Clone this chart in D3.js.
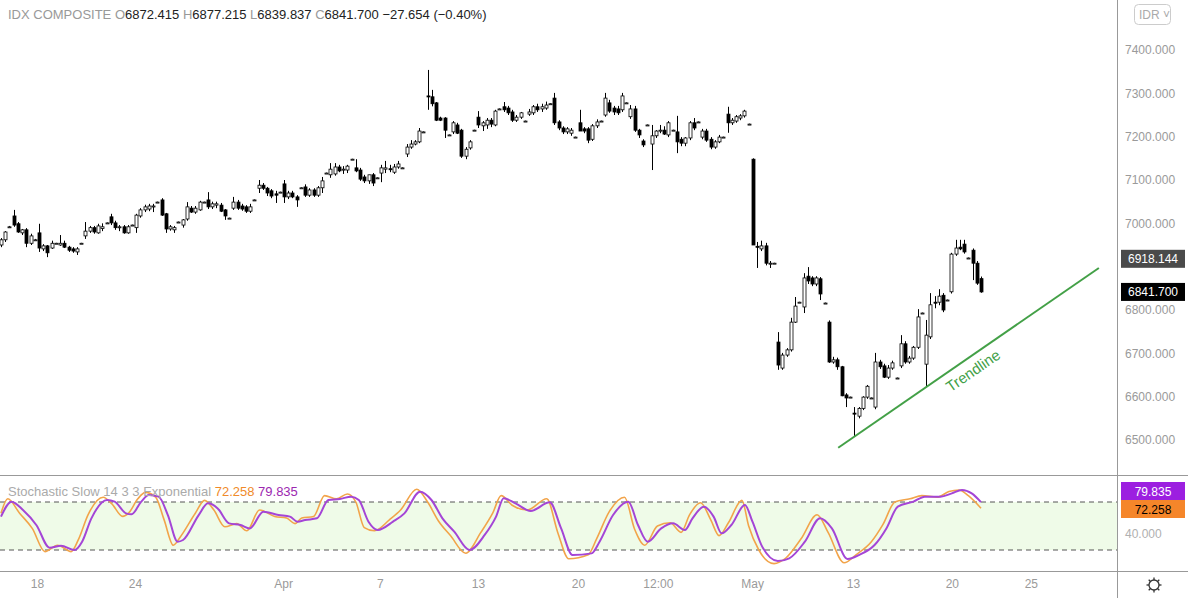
<!DOCTYPE html>
<html>
<head>
<meta charset="utf-8">
<script src="https://cdn.jsdelivr.net/npm/d3@7"></script>
<style>
  body { margin: 0; background: #fff; }
  svg { font-family: "Liberation Sans", Arial, sans-serif; }
</style>
</head>
<body>
<div id="chart"></div>
<script>
// bars [open, high, low, close]
var marchBars = [
  [6950,6966,6945,6962],[6962,6982,6957,6980],[6992,6994,6990,6992],[7017,7031,6992,6996],[6999,7003,6978,6980],
  [6978,6987,6973,6985],[6985,6989,6945,6954],[6954,6976,6950,6971],[6962,6964,6960,6962],[6978,6999,6934,6943],
  [6941,6952,6936,6948],[6948,6950,6922,6932],[6943,6960,6941,6954],[6954,6955,6953,6954],[6950,6973,6948,6954],
  [6954,6960,6943,6945],[6945,6948,6934,6938],[6941,6945,6932,6936],[6934,6945,6927,6941],[6954,6955,6953,6954],
  [6971,7003,6964,6982],[6982,6994,6978,6990],[6990,6994,6976,6980],[6978,6999,6976,6994],[6988,7000,6982,6992],
  [7001,7002,7000,7001],[7015,7022,6996,7001],[7001,7006,6985,6990],[6990,6996,6982,6992],[6992,6996,6976,6978],
  [6978,6996,6976,6992],[6996,6997,6995,6996],[6990,7022,6978,7019],[7017,7035,7013,7031],[7031,7043,7026,7038],
  [7033,7045,7028,7040],[7038,7045,7026,7040],[7049,7050,7048,7049],[7054,7058,7017,7019],[7022,7024,6978,6987],
  [6987,6996,6983,6992],[6985,6994,6978,6990],[7003,7004,7002,7003],[6996,7010,6990,7008],[7010,7049,7006,7038],
  [7035,7040,7024,7026],[7026,7040,7022,7035],[7031,7052,7029,7049],[7049,7050,7048,7049],[7054,7072,7033,7038],
  [7038,7050,7033,7045],[7042,7050,7035,7045],[7042,7047,7026,7028],[7031,7033,7008,7017],[7012,7013,7011,7012],
  [7035,7061,7031,7049],[7049,7054,7031,7035],[7040,7045,7029,7033],[7038,7042,7024,7028],[7028,7045,7024,7038],
  [7054,7055,7053,7054],[7081,7100,7070,7088],[7088,7093,7077,7081],[7081,7084,7063,7070],[7075,7079,7058,7063],
  [7068,7075,7047,7065],[7072,7073,7071,7072]
];
var aprilBars = [
  [7091,7100,7047,7061],[7061,7075,7056,7070],[7070,7075,7058,7061],[7061,7065,7038,7054],[7082,7083,7081,7082],
  [7084,7090,7061,7065],[7065,7081,7061,7077],[7077,7081,7061,7065],[7065,7086,7061,7082],[7082,7107,7070,7098],
  [7116,7117,7115,7116],[7112,7139,7105,7125],[7114,7139,7110,7130],[7130,7135,7118,7121],[7123,7132,7114,7125],
  [7123,7135,7116,7132],[7148,7149,7147,7148],[7128,7148,7118,7121],[7123,7128,7098,7102],[7107,7112,7093,7098],
  [7098,7112,7091,7112],[7112,7116,7086,7093],[7105,7106,7104,7105],[7116,7135,7095,7128],[7125,7144,7116,7128],
  [7126,7135,7118,7125],[7118,7137,7114,7130],[7130,7144,7126,7137],[7128,7129,7127,7128],[7160,7183,7153,7176],
  [7176,7192,7172,7183],[7183,7192,7180,7188],[7188,7220,7185,7213],[7211,7212,7210,7211],[7294,7354,7262,7292],
  [7292,7308,7270,7276],[7278,7280,7236,7238],[7243,7246,7236,7238],[7243,7245,7197,7215],[7204,7205,7203,7204],
  [7211,7236,7206,7232],[7227,7232,7206,7208],[7215,7218,7151,7155],[7155,7176,7148,7171],[7174,7192,7170,7188],
  [7215,7216,7214,7215],[7245,7259,7220,7227],[7225,7236,7213,7232],[7227,7243,7218,7238],[7238,7243,7222,7229],
  [7227,7262,7224,7259],[7264,7265,7263,7264],[7269,7280,7257,7262],[7266,7271,7250,7255],[7257,7262,7234,7238],
  [7238,7250,7234,7245],[7245,7257,7241,7255],[7236,7237,7235,7236],[7252,7264,7248,7257],[7255,7273,7250,7269],
  [7269,7276,7257,7262],[7264,7276,7257,7269],[7266,7281,7262,7273],[7276,7277,7275,7276],[7289,7301,7227,7232],
  [7234,7238,7215,7220],[7220,7224,7206,7211],[7211,7222,7206,7218],[7208,7220,7202,7215],[7199,7200,7198,7199],
  [7232,7262,7222,7213],[7218,7222,7208,7213],[7218,7222,7185,7192],[7194,7229,7190,7225],[7225,7240,7220,7234],
  [7236,7237,7235,7236],[7250,7301,7246,7289],[7278,7285,7255,7259],[7266,7271,7250,7257],[7264,7271,7250,7255],
  [7262,7301,7257,7294],[7278,7279,7277,7278],[7246,7273,7241,7264],[7264,7271,7211,7215],[7215,7218,7197,7204],
  [7190,7194,7176,7181],[7227,7228,7226,7227],[7183,7227,7123,7202],[7202,7215,7197,7213],[7215,7227,7208,7215],
  [7215,7224,7204,7206],[7204,7236,7199,7232],[7215,7216,7214,7215],[7211,7248,7162,7188],[7194,7199,7178,7185],
  [7185,7199,7178,7197],[7197,7236,7192,7232],[7232,7243,7215,7220],[7234,7235,7233,7234],[7199,7218,7194,7213],
  [7213,7218,7188,7192],[7194,7199,7171,7176],[7176,7192,7172,7188],[7188,7204,7185,7199],[7199,7200,7198,7199],
  [7252,7269,7209,7232],[7232,7243,7227,7238],[7236,7250,7232,7246],[7243,7252,7238,7248],[7248,7262,7244,7259],
  [7229,7230,7228,7229]
];
var mayBars = [
  [7148,7150,6950,6950],[6947,6957,6897,6945],[6941,6960,6936,6948],[6948,6955,6903,6908],[6908,6913,6897,6908],
  [6908,6909,6907,6908],[6726,6749,6662,6673],[6666,6701,6662,6696],[6696,6712,6692,6708],[6708,6782,6704,6772],
  [6772,6830,6770,6809],[6818,6819,6817,6818],[6807,6885,6793,6874],[6878,6899,6860,6867],[6874,6878,6855,6860],
  [6860,6878,6855,6874],[6872,6876,6823,6837],[6816,6817,6815,6816],[6772,6776,6678,6680],[6680,6692,6676,6685],
  [6685,6690,6662,6669],[6669,6671,6601,6602],[6604,6608,6576,6597],[6599,6600,6598,6599],[6562,6576,6507,6560],
  [6555,6576,6550,6573],[6573,6601,6569,6599],[6599,6627,6595,6624],[6597,6598,6596,6597],[6576,6701,6571,6680],
  [6680,6685,6664,6669],[6671,6676,6643,6645],[6645,6673,6641,6666],[6666,6683,6662,6678],[6643,6644,6642,6643],
  [6671,6742,6666,6722],[6722,6728,6676,6680],[6680,6694,6676,6689],[6689,6717,6685,6714],[6714,6802,6710,6784],
  [6793,6794,6792,6793],[6675,6777,6622,6742],[6738,6839,6733,6812],[6818,6832,6804,6816],[6818,6848,6811,6832],
  [6834,6839,6795,6800],[6823,6824,6822,6823],[6842,6932,6838,6929],[6929,6962,6925,6943],[6945,6962,6938,6941],
  [6952,6962,6930,6934],[6920,6921,6919,6920],[6938,6942,6869,6908],[6908,6913,6858,6862],[6872.415,6877.215,6839.837,6841.7]
];

// stochastic samples: bar index and value
var dIdx = [0,2.5,5.2,8.4,11.5,14.2,17.4,19.2,21.4,25.1,26.9,29.6,30.9,33.2,35,37.3,39.5,41.8,43.1,46.8,49,51.3,54,56.7,58.9,62.1,65.7,68.4,70.2,72,74.8,77.5,80.2,82.9,84.7,87,89.2,92.8,95.5,99.2,101.9,104.5,107.3,110.9,114.5,117.2,119,121.8,125.4,129.9,132.6,135.3,139.8,141.7,144.9,148.5,150.8,153.1,156.3,159.1,161.9,163.7,166.4,168.7,170.6,172.9,176.1,177.9,180.2,183.9,186.6,190.3,193.9,196.7,200.4,203.1,206.8,209.6,212.3,216,218.7,222.4,225.1,227.5,229.8,232];
var dVals = [61.7,80.4,70,51,22.9,25.4,20,30.4,59.6,82.5,80.4,65.8,64.6,80.4,88.7,86.7,63.7,30.4,32.5,63.7,78.3,72,53.3,51.2,47,67.9,63.7,61.7,55.4,57.5,59.6,82.5,83.8,86.7,82.5,55.4,45,55.4,65.8,92.9,82.5,59.6,42.9,20,38.8,61.7,84.6,78.3,68.8,79.6,47,13.7,15.8,30.4,63.7,80.4,51.2,30.4,47,53.3,45,59.6,74.2,61.7,40.8,51.2,76.2,55.4,24.2,6.3,9.6,30.4,59.6,47,8.8,13.7,26.2,47,74.2,80.4,86.7,86.7,90.8,95,90.8,79.835];
var kIdx = [0,1.6,4.4,7.4,10.4,13.4,16.6,18.4,20.6,24.2,26.2,28.8,30.2,32.4,34.2,36.6,38.6,40.8,42.4,46,48.2,50.4,53,55.8,58.2,61.2,64.8,67.6,69.6,71.2,74,76.6,79.4,82,84,86,88.4,92,94.6,98.4,101,103.6,106.4,110,113.6,116.4,118.4,121,124.6,129.2,131.8,134.4,139,141,144,147.6,150,152.4,155.4,158.4,161,163,165.6,168,170,172.2,175.4,177,179.4,183,185.8,189.4,193.2,195.8,199.6,202.4,206,208.8,211.6,215.2,218,221.6,224.4,226.8,229,232];
var kVals = [66,84,66,47,18,26,18,34,64,86,78,62,66,84,92,86,58,26,36,66,82,70,49,53,44,70,62,60,53,60,62,88,84,90,80,48,44,58,70,96,80,56,38,16,42,66,88,76,70,84,42,9,14,34,68,86,46,26,50,54,42,64,79,58,38,54,82,50,20,3,10,34,64,42,4,14,30,52,80,84,88,86,93,95,88,72.258];

var xTicks = [8.5,31.7,66.8,89.7,112.9,136.6,155.5,177.8,201.7,225.1,243.8];
var xTickLabels = ["18","24","Apr","7","13","20","12:00","May","13","20","25"];
var priceTicks = [6500,6600,6700,6800,7000,7100,7200,7300,7400];
var trendIdx = [198.2,259.9];
var trendVals = [6482,6897];

var bars = marchBars.concat(aprilBars, mayBars);

var W = 1188, H = 598, plotRight = 1117;
var svg = d3.select("#chart").append("svg").attr("width", W).attr("height", H);

var x = d3.scaleLinear().domain([0, bars.length - 1]).range([1, 981]);
var y = d3.scaleLinear().domain([6500, 7400]).range([440, 50]);
var ys = d3.scaleLinear().domain([0, 100]).range([566, 486]);

// panel frame
svg.append("line").attr("x1", plotRight + 0.5).attr("x2", plotRight + 0.5).attr("y1", 0).attr("y2", H).attr("stroke", "#999");
svg.append("line").attr("x1", 0).attr("x2", W).attr("y1", 475.5).attr("y2", 475.5).attr("stroke", "#999");
svg.append("line").attr("x1", 0).attr("x2", W).attr("y1", 571.5).attr("y2", 571.5).attr("stroke", "#999");

// price axis (6900 sits under the 6918 tag, so left out)
var priceAxis = d3.axisRight(y).tickValues(priceTicks).tickSize(0).tickPadding(8).tickFormat(d3.format(".3f"));
svg.append("g").attr("transform", `translate(${plotRight},0)`).call(priceAxis)
  .call(g => g.select(".domain").remove())
  .selectAll("text").attr("fill", "#9a9a9a").attr("font-size", 12);

// candles
var candles = svg.append("g");
bars.forEach(function(b, i) {
  var cx = Math.round(x(i)) + 0.5;
  candles.append("line").attr("x1", cx).attr("x2", cx).attr("y1", y(b[1])).attr("y2", y(b[2])).attr("stroke", "#000");
  var top = y(Math.max(b[0], b[3])), bot = y(Math.min(b[0], b[3]));
  candles.append("rect").attr("x", cx - 1.5).attr("y", top).attr("width", 3).attr("height", Math.max(bot - top, 1))
    .attr("fill", b[3] >= b[0] ? "#fff" : "#000").attr("stroke", "#000").attr("stroke-width", 0.8);
});

// trendline
svg.append("line").attr("x1", x(trendIdx[0])).attr("y1", y(trendVals[0])).attr("x2", x(trendIdx[1])).attr("y2", y(trendVals[1]))
  .attr("stroke", "#43a047").attr("stroke-width", 2);
var ang = Math.atan2(y(trendVals[1]) - y(trendVals[0]), x(trendIdx[1]) - x(trendIdx[0])) * 180 / Math.PI;
svg.append("text").attr("transform", `translate(976,375) rotate(${ang})`).attr("text-anchor", "middle")
  .attr("fill", "#43a047").attr("font-size", 15).text("Trendline");

// last price tags
function tag(v, yy, bg, fg) {
  svg.append("rect").attr("x", plotRight + 4).attr("y", yy - 9).attr("width", 64).attr("height", 18).attr("fill", bg);
  svg.append("text").attr("x", plotRight + 36).attr("y", yy + 4.5).attr("text-anchor", "middle").attr("fill", fg).attr("font-size", 12).text(v);
}
tag("6918.144", y(6918.144), "#4a4a4a", "#fff");
tag("6841.700", y(6841.7), "#000", "#fff");

// IDR box
svg.append("rect").attr("x", 1134.5).attr("y", 4.5).attr("width", 36).attr("height", 20).attr("rx", 4).attr("fill", "#fff").attr("stroke", "#ccc");
svg.append("text").attr("x", 1139).attr("y", 19).attr("fill", "#aaa").attr("font-size", 12).text("IDR ˅");

// stochastic
svg.append("rect").attr("x", 0).attr("y", ys(80)).attr("width", plotRight).attr("height", ys(20) - ys(80)).attr("fill", "#effbe8");
[20, 80].forEach(function(v) {
  svg.append("line").attr("x1", 0).attr("x2", plotRight).attr("y1", ys(v)).attr("y2", ys(v))
    .attr("stroke", "#555").attr("stroke-dasharray", "5,4");
});
var kLine = d3.line().x((d, i) => x(kIdx[i])).y(d => ys(d)).curve(d3.curveMonotoneX);
var dLine = d3.line().x((d, i) => x(dIdx[i])).y(d => ys(d)).curve(d3.curveMonotoneX);
svg.append("path").attr("d", kLine(kVals)).attr("fill", "none").attr("stroke", "#f2a44a").attr("stroke-width", 1.6);
svg.append("path").attr("d", dLine(dVals)).attr("fill", "none").attr("stroke", "#a445d6").attr("stroke-width", 2);

svg.append("text").attr("x", plotRight + 8).attr("y", ys(40) + 4).attr("fill", "#b0b0b0").attr("font-size", 12).text("40.000");
tag("79.835", 491, "#9c1fe0", "#fff");
tag("72.258", 509, "#f5862a", "#000");

var st = svg.append("text").attr("x", 8).attr("y", 496).attr("font-size", 13);
st.append("tspan").attr("fill", "#aaa").text("Stochastic Slow 14 3 3 Exponential ");
st.append("tspan").attr("fill", "#f08a2a").text(" 72.258 ");
st.append("tspan").attr("fill", "#9c27b0").text(" 79.835");

// time axis
var timeAxis = d3.axisBottom(x).tickValues(xTicks).tickSize(0).tickPadding(8).tickFormat((d, i) => xTickLabels[i]);
svg.append("g").attr("transform", "translate(0,571)").call(timeAxis)
  .call(g => g.select(".domain").remove())
  .selectAll("text").attr("fill", "#9a9a9a").attr("font-size", 12);

// gear
var gear = svg.append("g").attr("transform", "translate(1154,585)");
gear.append("circle").attr("r", 5).attr("fill", "none").attr("stroke", "#333").attr("stroke-width", 1.3);
d3.range(8).forEach(function(k) {
  var a = k * Math.PI / 4;
  gear.append("line").attr("x1", 5 * Math.cos(a)).attr("y1", 5 * Math.sin(a)).attr("x2", 7.5 * Math.cos(a)).attr("y2", 7.5 * Math.sin(a))
    .attr("stroke", "#333").attr("stroke-width", 1.3);
});

// header
var hd = svg.append("text").attr("x", 8).attr("y", 19).attr("font-size", 13);
hd.append("tspan").attr("fill", "#999").text("IDX COMPOSITE  ");
[["O", "6872.415"], ["H", "6877.215"], ["L", "6839.837"], ["C", "6841.700"]].forEach(function(p) {
  hd.append("tspan").attr("fill", "#999").text(" " + p[0]);
  hd.append("tspan").attr("fill", "#222").text(p[1] + " ");
});
hd.append("tspan").attr("fill", "#222").text(" \u221227.654 (\u22120.40%)");
</script>
</body>
</html>
